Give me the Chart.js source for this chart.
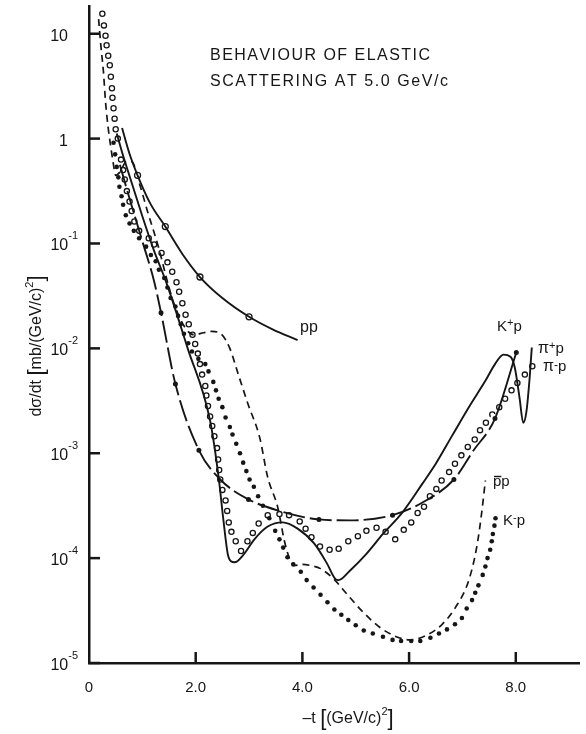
<!DOCTYPE html>
<html>
<head>
<meta charset="utf-8">
<script src="https://cdn.jsdelivr.net/npm/chart.js@4.4.1/dist/chart.umd.min.js"></script>
<style>
  html, body { margin: 0; padding: 0; background: #fff; }
  #wrap { width: 586px; height: 734px; }
</style>
</head>
<body>
<div id="wrap"><canvas id="chart" width="586" height="734"></canvas></div>
<script>
// -t in (GeV/c)^2 and dsigma/dt in mb/(GeV/c)^2

// pp : smooth curve with a few open circles
const ppT = [0.62, 0.75, 0.91, 1.15, 1.43, 1.75, 2.08, 2.5, 3.0, 3.45, 3.91];
const ppY = [1.26, 0.741, 0.447, 0.240, 0.145, 0.0794, 0.0479, 0.0302, 0.0200, 0.0151, 0.0120];
const ppMarkT = [0.91, 1.43, 2.08, 3.0];
const ppMarkY = [0.447, 0.145, 0.0479, 0.0200];

// K+p : dash-dot curve with filled dots
const kpT = [0.58, 0.64, 0.8, 1.0, 1.22, 1.35, 1.62, 2.06, 2.46, 2.99, 3.57, 4.31, 4.89, 5.69, 6.25, 6.84, 7.2, 7.61, 8.01];
const kpY = [0.562, 0.437, 0.229, 0.105, 0.0437, 0.0219, 0.00457, 0.00107, 5.62e-4, 3.63e-4, 2.82e-4, 2.34e-4,
             2.29e-4, 2.57e-4, 3.39e-4, 5.62e-4, 1.05e-3, 2.14e-3, 9.12e-3];
const kpMarkT = [1.35, 1.62, 2.06, 2.99, 4.31, 5.69, 6.84, 7.61, 8.01];
const kpMarkY = [0.0219, 0.00457, 0.00107, 3.63e-4, 2.34e-4, 2.57e-4, 5.62e-4, 2.14e-3, 9.12e-3];

// pi+p : solid curve
const pipT = [0.52, 0.62, 0.8, 1.0, 1.22, 1.44, 1.85, 2.27, 2.43, 2.52, 2.60, 2.66, 2.73, 2.89, 3.10, 3.35, 3.63,
              3.91, 4.22, 4.46, 4.62, 4.68, 4.89, 5.20, 5.51, 5.88, 6.25, 6.50, 6.81, 7.12, 7.43, 7.61, 7.77,
              7.90, 7.98, 8.07, 8.14, 8.20, 8.26, 8.30];
const pipY = [1.12, 0.741, 0.380, 0.182, 0.0851, 0.0437, 0.0100, 0.00204, 5.89e-4, 2.29e-4, 1.10e-4, 9.33e-5,
              9.12e-5, 1.07e-4, 1.51e-4, 2.0e-4, 2.19e-4, 1.91e-4, 1.38e-4, 8.91e-5, 6.31e-5, 6.17e-5, 7.59e-5,
              1.10e-4, 1.70e-4, 2.75e-4, 5.13e-4, 7.94e-4, 1.48e-3, 2.75e-3, 4.90e-3, 7.08e-3, 8.71e-3,
              8.32e-3, 6.61e-3, 3.39e-3, 1.95e-3, 2.51e-3, 5.25e-3, 1.02e-2];

// pi-p : open circles
const pimT = [0.25, 0.28, 0.31, 0.33, 0.36, 0.39, 0.41, 0.43, 0.44, 0.46, 0.48, 0.50, 0.54, 0.60, 0.64, 0.67,
              0.71, 0.76, 0.80, 0.85, 0.94, 1.12, 1.22, 1.36, 1.47, 1.56, 1.64, 1.69, 1.75, 1.81, 1.87, 1.94,
              1.99, 2.04, 2.08, 2.12, 2.18, 2.20, 2.23, 2.27, 2.31, 2.35, 2.40, 2.42, 2.44, 2.46, 2.50, 2.56,
              2.59, 2.62, 2.67, 2.75, 2.85, 2.97, 3.07, 3.18, 3.35, 3.57, 3.75, 3.95, 4.06, 4.17, 4.33, 4.51,
              4.68, 4.86, 5.04, 5.20, 5.39, 5.56, 5.74, 5.90, 6.04, 6.16, 6.28, 6.39, 6.51, 6.61, 6.75, 6.86,
              6.98, 7.10, 7.23, 7.33, 7.44, 7.56, 7.69, 7.80, 7.92, 8.03, 8.17, 8.31];
const pimY = [15.5, 12.0, 9.55, 7.76, 6.17, 5.01, 3.89, 3.02, 2.45, 1.95, 1.55, 1.23, 1.0, 0.631, 0.501, 0.407,
              0.316, 0.251, 0.204, 0.162, 0.132, 0.112, 0.0977, 0.0813, 0.0661, 0.0537, 0.0427, 0.0347, 0.0269,
              0.0209, 0.0170, 0.0135, 0.0110, 0.00891, 0.00708, 0.00562, 0.00437, 0.00355, 0.00282, 0.00224,
              0.00182, 0.00145, 0.00112, 8.71e-4, 6.92e-4, 5.62e-4, 4.47e-4, 3.55e-4, 2.82e-4, 2.19e-4, 1.78e-4,
              1.45e-4, 1.17e-4, 1.45e-4, 1.74e-4, 2.14e-4, 2.57e-4, 2.63e-4, 2.57e-4, 2.24e-4, 1.91e-4, 1.58e-4,
              1.29e-4, 1.20e-4, 1.23e-4, 1.45e-4, 1.62e-4, 1.82e-4, 1.95e-4, 1.78e-4, 1.51e-4, 1.86e-4, 2.19e-4,
              2.69e-4, 3.09e-4, 3.89e-4, 4.57e-4, 5.50e-4, 6.61e-4, 7.94e-4, 9.55e-4, 1.15e-3, 1.35e-3, 1.66e-3,
              1.95e-3, 2.34e-3, 2.75e-3, 3.31e-3, 3.98e-3, 4.68e-3, 5.62e-3, 6.76e-3];

// pbar p : dashed curve
const pbT = [0.18, 0.22, 0.27, 0.31, 0.36, 0.40, 0.45, 0.50, 0.58, 0.70, 0.80, 0.94, 1.10, 1.30, 1.50, 1.62, 1.80,
             1.96, 2.15, 2.30, 2.49, 2.64, 2.80, 2.98, 3.20, 3.35, 3.54, 3.66, 3.75, 3.85, 4.0, 4.15, 4.34, 4.59,
             4.83, 5.11, 5.45, 5.76, 6.01, 6.31, 6.62, 6.87, 7.12, 7.27, 7.36, 7.43];
const pbY = [13.8, 7.94, 4.37, 2.24, 1.26, 0.891, 0.603, 0.447, 0.479, 0.603, 0.603, 0.380, 0.200, 0.0933, 0.0380,
             0.0245, 0.0158, 0.0135, 0.0141, 0.0145, 0.0135, 0.0100, 0.00562, 0.00295, 0.00141, 5.89e-4, 3.02e-4,
             1.48e-4, 1.02e-4, 8.51e-5, 8.71e-5, 8.51e-5, 7.94e-5, 6.31e-5, 4.57e-5, 3.16e-5, 2.19e-5, 1.78e-5,
             1.66e-5, 1.82e-5, 2.34e-5, 3.39e-5, 6.17e-5, 1.29e-4, 2.69e-4, 5.50e-4];

// K-p : filled dots
const kmT = [0.46, 0.49, 0.52, 0.55, 0.57, 0.61, 0.64, 0.69, 0.76, 0.84, 0.94, 1.07, 1.16, 1.25, 1.31, 1.41, 1.47,
             1.53, 1.62, 1.67, 1.72, 1.78, 1.86, 1.93, 2.05, 2.18, 2.24, 2.33, 2.38, 2.43, 2.50, 2.56, 2.64, 2.69,
             2.76, 2.83, 2.89, 2.95, 3.01, 3.09, 3.17, 3.26, 3.38, 3.49, 3.57, 3.64, 3.72, 3.83, 3.97, 4.08, 4.21,
             4.34, 4.47, 4.60, 4.73, 4.86, 5.00, 5.15, 5.32, 5.51, 5.69, 5.85, 6.04, 6.21, 6.40, 6.56, 6.71, 6.86,
             6.99, 7.08, 7.18, 7.24, 7.30, 7.38, 7.43, 7.47, 7.52, 7.55, 7.57, 7.60, 7.62];
const kmY = [0.912, 0.708, 0.537, 0.427, 0.347, 0.282, 0.234, 0.186, 0.155, 0.132, 0.112, 0.0933, 0.0776, 0.0676,
             0.0562, 0.0468, 0.0380, 0.0302, 0.0251, 0.0204, 0.0170, 0.0138, 0.0112, 0.00933, 0.00794, 0.00708,
             0.00603, 0.00479, 0.00398, 0.00331, 0.00275, 0.00219, 0.00178, 0.00151, 0.00123, 0.00100, 8.13e-4,
             6.76e-4, 5.62e-4, 4.79e-4, 3.89e-4, 3.16e-4, 2.40e-4, 1.82e-4, 1.51e-4, 1.26e-4, 1.02e-4, 8.71e-5,
             7.41e-5, 6.17e-5, 5.25e-5, 4.47e-5, 3.80e-5, 3.24e-5, 2.88e-5, 2.57e-5, 2.29e-5, 2.04e-5, 1.91e-5,
             1.78e-5, 1.66e-5, 1.62e-5, 1.62e-5, 1.62e-5, 1.74e-5, 1.91e-5, 2.09e-5, 2.34e-5, 2.69e-5, 3.31e-5,
             3.98e-5, 4.68e-5, 5.50e-5, 6.92e-5, 8.32e-5, 1.00e-4, 1.20e-4, 1.45e-4, 1.70e-4, 2.04e-4, 2.40e-4];

// axes
const xTicks = [0, 2, 4, 6, 8];
const xTickLabels = ['0', '2.0', '4.0', '6.0', '8.0'];
const yTicks = [10, 1, 0.1, 0.01, 0.001, 1e-4, 1e-5];
const yTickBase = ['10', '1', '10', '10', '10', '10', '10'];
const yTickExp = ['', '', '-1', '-2', '-3', '-4', '-5'];

const INK = '#161616';
const FONT = '"Liberation Sans", Arial, sans-serif';

const pts = (xs, ys) => xs.map((x, i) => ({ x: x, y: ys[i] }));

function rich(ctx, parts, x, y, align) {
  let w = 0;
  parts.forEach(p => { ctx.font = p[1] + 'px ' + FONT; w += ctx.measureText(p[0]).width; });
  let cx = align === 'right' ? x - w : align === 'center' ? x - w / 2 : x;
  parts.forEach(p => {
    ctx.font = p[1] + 'px ' + FONT;
    ctx.fillText(p[0], cx, y - (p[2] || 0));
    cx += ctx.measureText(p[0]).width;
  });
  return w;
}

function spaced(ctx, str, x, y, width) {
  const chars = [...str];
  const total = chars.reduce((s, c) => s + ctx.measureText(c).width, 0);
  const gap = (width - total) / (chars.length - 1);
  let cx = x;
  chars.forEach(c => { ctx.fillText(c, cx, y); cx += ctx.measureText(c).width + gap; });
}

const decor = {
  id: 'decor',
  afterDraw(chart) {
    const ctx = chart.ctx;
    const xs = chart.scales.x, ys = chart.scales.y;
    const area = chart.chartArea;
    ctx.save();
    ctx.strokeStyle = INK;
    ctx.fillStyle = INK;
    ctx.lineWidth = 2.5;
    ctx.textAlign = 'left';
    ctx.textBaseline = 'alphabetic';

    // inward tick marks
    yTicks.forEach(v => {
      const py = ys.getPixelForValue(v);
      ctx.beginPath(); ctx.moveTo(area.left, py); ctx.lineTo(area.left + 11, py); ctx.stroke();
    });
    xTicks.slice(1).forEach(v => {
      const px = xs.getPixelForValue(v);
      ctx.beginPath(); ctx.moveTo(px, area.bottom); ctx.lineTo(px, area.bottom - 11); ctx.stroke();
    });

    // tick labels
    yTicks.forEach((v, i) => {
      const py = ys.getPixelForValue(v) + 7;
      if (yTickExp[i]) rich(ctx, [[yTickBase[i], 16], [yTickExp[i], 11, 11]], area.left - 11, py, 'right');
      else rich(ctx, [[yTickBase[i], 16]], area.left - 21, py, 'right');
    });
    xTicks.forEach((v, i) => {
      rich(ctx, [[xTickLabels[i], 15]], xs.getPixelForValue(v), area.bottom + 29, 'center');
    });

    // axis titles
    rich(ctx, [['\u2013t ', 16], ['[', 22, -2], ['(GeV/c)', 16], ['2', 11, 8], [']', 22, -2]], 348, 723, 'center');
    ctx.save();
    ctx.translate(41, 346);
    ctx.rotate(-Math.PI / 2);
    rich(ctx, [['d\u03c3/dt ', 16], ['[', 22, -2], ['mb/(GeV/c)', 16], ['2', 11, 8], [']', 22, -2]], 0, 0, 'center');
    ctx.restore();

    // heading
    ctx.font = '16px ' + FONT;
    spaced(ctx, 'BEHAVIOUR OF ELASTIC', 210, 60, 220);
    spaced(ctx, 'SCATTERING AT 5.0 GeV/c', 210, 86, 238);

    // curve labels
    rich(ctx, [['pp', 16]], 300, 332, 'left');
    rich(ctx, [['K', 15], ['+', 11, 5], ['p', 15]], 497, 331, 'left');
    rich(ctx, [['\u03c0', 16], ['+', 11, 4], ['p', 15]], 538, 353, 'left');
    rich(ctx, [['\u03c0', 16], ['-', 12, 2], ['p', 15]], 543, 371, 'left');
    const w = rich(ctx, [['p', 15]], 493, 486, 'left');
    rich(ctx, [['p', 15]], 493 + w, 486, 'left');
    ctx.lineWidth = 1.4;
    ctx.beginPath(); ctx.moveTo(494, 476.5); ctx.lineTo(493 + w, 476.5); ctx.stroke();
    rich(ctx, [['K', 15], ['-', 11, 4], ['p', 15]], 503, 525, 'left');
    ctx.restore();
  }
};

const lineBase = {
  showLine: true,
  pointRadius: 0,
  borderColor: INK,
  borderWidth: 1.9,
  cubicInterpolationMode: 'monotone',
  fill: false
};

new Chart(document.getElementById('chart'), {
  type: 'scatter',
  data: {
    datasets: [
      Object.assign({}, lineBase, { label: 'pp', data: pts(ppT, ppY) }),
      { label: 'pp points', data: pts(ppMarkT, ppMarkY), pointRadius: 3, pointBorderWidth: 1.3,
        pointBorderColor: INK, pointBackgroundColor: '#fff' },
      Object.assign({}, lineBase, { label: 'K+p', data: pts(kpT, kpY), borderDash: [22, 5],
        segment: { borderDash: c => (c.p0DataIndex >= kpT.length - 2 ? [] : [22, 5]) } }),
      { label: 'K+p points', data: pts(kpMarkT, kpMarkY), pointRadius: 3.6, pointBorderWidth: 2.2,
        pointBorderColor: '#fff', pointBackgroundColor: INK },
      Object.assign({}, lineBase, { label: 'pi+p', data: pts(pipT, pipY) }),
      { label: 'pi-p', data: pts(pimT, pimY), pointRadius: 2.6, pointBorderWidth: 1.3,
        pointBorderColor: INK, pointBackgroundColor: 'rgba(255,255,255,0)' },
      Object.assign({}, lineBase, { label: 'pbar p', data: pts(pbT, pbY), borderDash: [7, 5], borderWidth: 1.7 }),
      { label: 'K-p', data: pts(kmT, kmY), pointRadius: 2.3, pointBorderWidth: 0,
        pointBackgroundColor: INK }
    ]
  },
  options: {
    responsive: false,
    animation: false,
    events: [],
    layout: { padding: { top: 4, right: 0, left: 0, bottom: 0 } },
    plugins: { legend: { display: false }, tooltip: { enabled: false } },
    scales: {
      x: {
        type: 'linear', min: 0, max: 9.2,
        grid: { display: false },
        border: { display: true, width: 2.5, color: INK },
        ticks: { display: false },
        afterBuildTicks: s => { s.ticks = xTicks.map(v => ({ value: v })); },
        afterFit: s => { s.height = 71; }
      },
      y: {
        type: 'logarithmic', min: 1e-5, max: 18.3,
        grid: { display: false },
        border: { display: true, width: 2.5, color: INK },
        ticks: { display: false },
        afterBuildTicks: s => { s.ticks = yTicks.map(v => ({ value: v })); },
        afterFit: s => { s.width = 89; }
      }
    }
  },
  plugins: [decor]
});
</script>
</body>
</html>
